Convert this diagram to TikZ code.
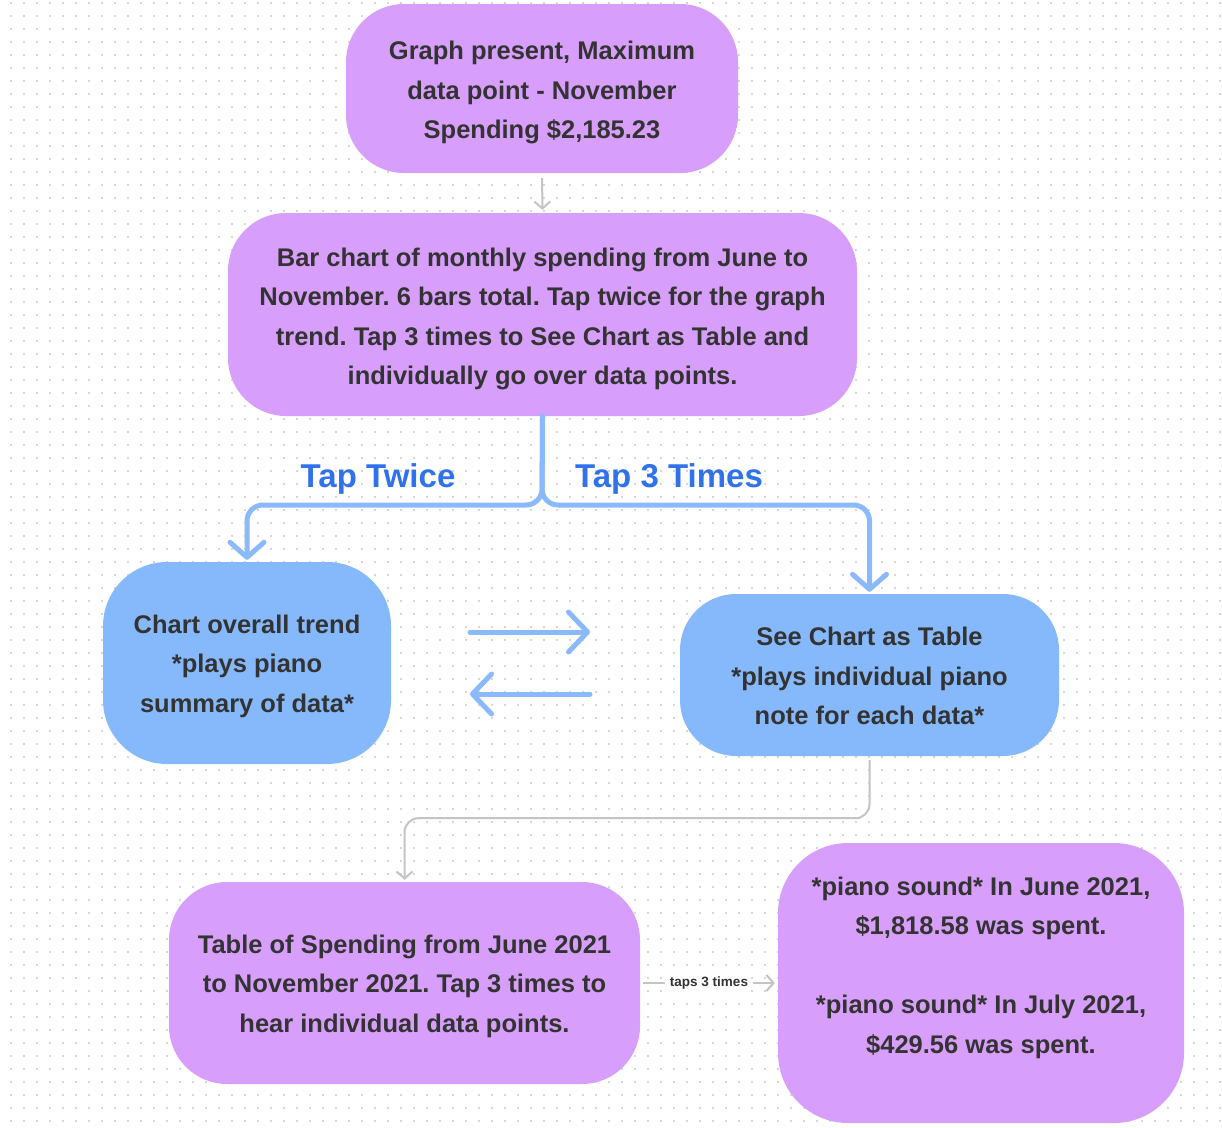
\documentclass[tikz,border=0pt]{standalone}
\usepackage{fontspec}
\setmainfont{Liberation Sans}
\usetikzlibrary{arrows.meta,calc}
\definecolor{purp}{HTML}{D79FFB}
\definecolor{bluebox}{HTML}{86B9FC}
\definecolor{txt}{HTML}{333333}
\definecolor{lblue}{HTML}{2F72EC}
\definecolor{arrowblue}{HTML}{8AB9FC}
\definecolor{grayline}{HTML}{C4C4C4}
\definecolor{dotc}{HTML}{D6D6D6}
\frenchspacing
\newcommand\tallfirst[1]{\rule{0pt}{#1}}
\newcommand\deeplast[1]{\rule[-#1]{0pt}{0pt}}
\begin{document}
\begin{tikzpicture}[x=1pt,y=-1pt,
 box/.style={rounded corners=58pt, text=txt, font=\fontsize{25.5}{39.5}\selectfont\bfseries, align=center, inner sep=0pt},
 pbox/.style={box, fill=purp},
 bbox/.style={box, fill=bluebox},
 bluearr/.style={draw=arrowblue, line width=5pt, line cap=round, line join=round, rounded corners=16pt, -{Straight Barb[length=15pt,width=34pt,line cap=round,line join=round]}},
 grayarr/.style={draw=grayline, line width=2pt, rounded corners=14pt, -{Straight Barb[length=7pt,width=16pt]}},
 tapl/.style={text=lblue, font=\fontsize{33}{38}\selectfont\bfseries}]
\useasboundingbox (0,0) rectangle (1222,1127);
\fill[white] (0,0) rectangle (1222,1127);
\foreach \j in {0,...,86}{\draw[dotc, line width=1.5pt, dash pattern=on 1.5pt off 11.5pt] (10.25,3+13*\j) -- (1222,3+13*\j);}

\node[pbox, minimum width=392pt, minimum height=169pt] (n1) at (542,88.5) {\tallfirst{27pt}Graph present, Maximum\\data point - November\\Spending \$2,185.23};
\node[pbox, minimum width=629pt, minimum height=203pt] (n2) at (542.5,314.5) {\tallfirst{27pt}Bar chart of monthly spending from June to\\November. 6 bars total. Tap twice for the graph\\trend. Tap 3 times to See Chart as Table and\\individually go over data points.};
\node[bbox, minimum width=288pt, minimum height=202pt, rounded corners=64pt] (n3) at (247,663) {\tallfirst{25pt}Chart overall trend\\*plays piano\\summary of data*};
\node[bbox, minimum width=379pt, minimum height=162pt, rounded corners=56pt] (n4) at (869.5,675) {\tallfirst{21pt}See Chart as Table\\*plays individual piano\\note for each data*};
\node[pbox, minimum width=471pt, minimum height=202pt] (n5) at (404.5,983) {\tallfirst{25pt}Table of Spending from June 2021\\to November 2021. Tap 3 times to\\hear individual data points.};
\node[pbox, minimum width=406pt, minimum height=280pt, rounded corners=70pt] (n6) at (981,983) {*piano sound* In June 2021,\\\$1,818.58 was spent.\\[39.5pt]*piano sound* In July 2021,\\\$429.56 was spent.\deeplast{36pt}};

% connectors
\draw[grayarr, shorten <=5pt, shorten >=3pt] (n1.south) -- (n2.north);
\coordinate (j) at (542,505);
\draw[bluearr, shorten >=2pt] (n2.south) -- (j) -| (n3.north);
\draw[bluearr, shorten >=2pt] (n2.south) -- (j) -| (n4.north);
\node[tapl] (t1) at (378,479) {Tap Twice};
\node[tapl] (t2) at (669,479) {Tap 3 Times};

\coordinate (a1) at (470,632);
\coordinate (a2) at (590,632);
\coordinate (b1) at (590,694);
\coordinate (b2) at (470,694);
\draw[draw=arrowblue, line width=5pt, line cap=round, -{Straight Barb[length=19pt,width=40pt,line cap=round,line join=round]}] (a1) -- (a2);
\draw[draw=arrowblue, line width=5pt, line cap=round, -{Straight Barb[length=19pt,width=40pt,line cap=round,line join=round]}] (b1) -- (b2);

\draw[grayarr, shorten <=4pt, shorten >=2pt] (n4.south) -- ++(0,62) -| (n5.north);
\draw[grayarr, shorten <=3pt, shorten >=3pt] (n5.east) -- node[fill=white, inner xsep=5pt, text=txt, font=\fontsize{13.5}{15}\selectfont\bfseries] (lab) {taps 3 times} (n6.west);
\end{tikzpicture}
\end{document}
